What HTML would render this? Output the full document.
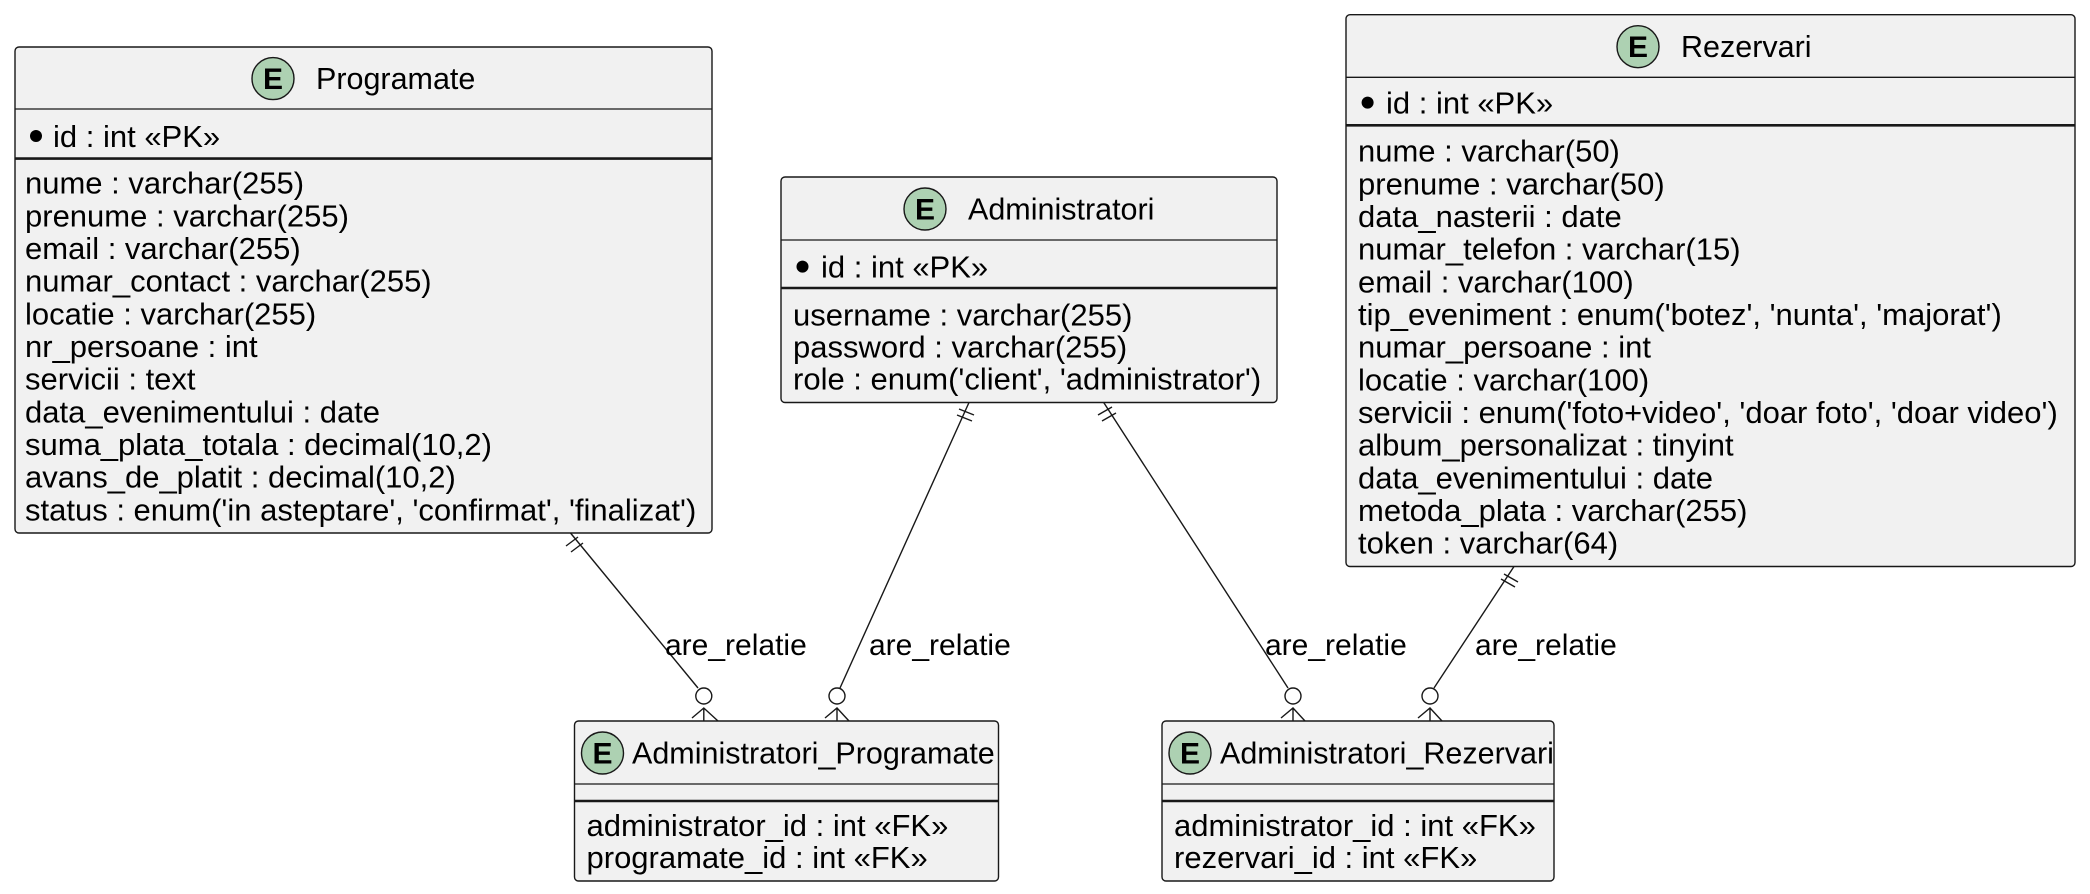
<!DOCTYPE html>
<html><head><meta charset="utf-8"><style>
html,body{margin:0;padding:0;background:#fff;}
svg{display:block;}
text{font-family:"Liberation Sans",sans-serif;font-size:31px;fill:#000;}
.t{font-size:30.5px;}
.lb{font-size:30px;}
.box{fill:#f1f1f1;stroke:#181818;stroke-width:1.4;}
.sep{stroke:#181818;stroke-width:1.3;}
.thk{stroke:#181818;stroke-width:2.6;}
.ln{stroke:#181818;stroke-width:1.4;fill:none;}
.ec{fill:#add1b2;stroke:#181818;stroke-width:1.4;}
.el{font-size:30px;font-weight:bold;text-anchor:middle;}
</style></head><body>
<svg width="2090" height="894" viewBox="0 0 2090 894" xmlns="http://www.w3.org/2000/svg">
<rect class="box" x="15" y="47" width="697" height="486" rx="4"/>
<circle class="ec" cx="273" cy="78.6" r="21"/><text class="el" x="273" y="89">E</text>
<text class="t" x="316" y="89">Programate</text>
<line class="sep" x1="15" y1="109" x2="712" y2="109"/>
<circle cx="36" cy="136" r="6" fill="#000"/><text x="53" y="147">id : int «PK»</text>
<line class="thk" x1="15" y1="158.6" x2="712" y2="158.6"/>
<text x="25" y="193.6">nume : varchar(255)</text>
<text x="25" y="226.3">prenume : varchar(255)</text>
<text x="25" y="258.9">email : varchar(255)</text>
<text x="25" y="291.6">numar_contact : varchar(255)</text>
<text x="25" y="324.3">locatie : varchar(255)</text>
<text x="25" y="356.9">nr_persoane : int</text>
<text x="25" y="389.6">servicii : text</text>
<text x="25" y="422.3">data_evenimentului : date</text>
<text x="25" y="454.9">suma_plata_totala : decimal(10,2)</text>
<text x="25" y="487.6">avans_de_platit : decimal(10,2)</text>
<text x="25" y="520.3">status : enum('in asteptare', 'confirmat', 'finalizat')</text>

<rect class="box" x="781" y="177" width="496" height="225.5" rx="4"/>
<circle class="ec" cx="925" cy="209" r="21"/><text class="el" x="925" y="219.5">E</text>
<text class="t" x="968" y="219.5">Administratori</text>
<line class="sep" x1="781" y1="240" x2="1277" y2="240"/>
<circle cx="802.5" cy="266.6" r="6" fill="#000"/><text x="821" y="277.6">id : int «PK»</text>
<line class="thk" x1="781" y1="288" x2="1277" y2="288"/>
<text x="793" y="325.6">username : varchar(255)</text>
<text x="793" y="357.6">password : varchar(255)</text>
<text x="793" y="389.6">role : enum('client', 'administrator')</text>

<rect class="box" x="1346" y="14.7" width="729" height="551.8" rx="4"/>
<circle class="ec" cx="1638" cy="46.7" r="21"/><text class="el" x="1638" y="57">E</text>
<text class="t" x="1681" y="57">Rezervari</text>
<line class="sep" x1="1346" y1="77.3" x2="2075" y2="77.3"/>
<circle cx="1367.6" cy="102.6" r="6" fill="#000"/><text x="1386" y="113.6">id : int «PK»</text>
<line class="thk" x1="1346" y1="125.3" x2="2075" y2="125.3"/>
<text x="1358" y="161.6">nume : varchar(50)</text>
<text x="1358" y="194.3">prenume : varchar(50)</text>
<text x="1358" y="226.9">data_nasterii : date</text>
<text x="1358" y="259.6">numar_telefon : varchar(15)</text>
<text x="1358" y="292.3">email : varchar(100)</text>
<text x="1358" y="324.9">tip_eveniment : enum('botez', 'nunta', 'majorat')</text>
<text x="1358" y="357.6">numar_persoane : int</text>
<text x="1358" y="390.3">locatie : varchar(100)</text>
<text x="1358" y="422.9">servicii : enum('foto+video', 'doar foto', 'doar video')</text>
<text x="1358" y="455.6">album_personalizat : tinyint</text>
<text x="1358" y="488.3">data_evenimentului : date</text>
<text x="1358" y="520.9">metoda_plata : varchar(255)</text>
<text x="1358" y="553.6">token : varchar(64)</text>

<rect class="box" x="574.5" y="721" width="424" height="160" rx="4"/>
<circle class="ec" cx="602.5" cy="753" r="21"/><text class="el" x="602.5" y="763.5">E</text>
<text class="t" x="632" y="763.5">Administratori_Programate</text>
<line class="sep" x1="574.5" y1="784" x2="998.5" y2="784"/>
<line class="thk" x1="574.5" y1="801" x2="998.5" y2="801"/>
<text x="586.5" y="836">administrator_id : int «FK»</text>
<text x="586.5" y="868">programate_id : int «FK»</text>

<rect class="box" x="1162" y="721" width="392" height="160" rx="4"/>
<circle class="ec" cx="1190" cy="753" r="21"/><text class="el" x="1190" y="763.5">E</text>
<text class="t" x="1220" y="763.5">Administratori_Rezervari</text>
<line class="sep" x1="1162" y1="784" x2="1554" y2="784"/>
<line class="thk" x1="1162" y1="801" x2="1554" y2="801"/>
<text x="1174" y="836">administrator_id : int «FK»</text>
<text x="1174" y="868">rezervari_id : int «FK»</text>

<g class="ln">
<line x1="570.5" y1="533" x2="698" y2="688"/>
<line x1="566" y1="546" x2="578" y2="537"/><line x1="571" y1="552" x2="583" y2="543"/>
<circle cx="703.8" cy="696" r="8" fill="#fff"/>
<path d="M703.8 721 L703.8 708 M692 718 L703.8 708 L718 721"/>
<line x1="969" y1="402.5" x2="840" y2="688"/>
<line x1="959" y1="409" x2="974" y2="415"/><line x1="957" y1="415" x2="972" y2="421"/>
<circle cx="837" cy="696" r="8" fill="#fff"/>
<path d="M837 721 L837 708 M825 718 L837 708 L849 721"/>
<line x1="1103.7" y1="402.5" x2="1288" y2="688"/>
<line x1="1098" y1="415" x2="1112" y2="407"/><line x1="1102" y1="421" x2="1116" y2="413"/>
<circle cx="1293" cy="696" r="8" fill="#fff"/>
<path d="M1293 721 L1293 708 M1281 718 L1293 708 L1305 721"/>
<line x1="1514" y1="566.5" x2="1434" y2="688"/>
<line x1="1504" y1="574" x2="1518" y2="582"/><line x1="1501" y1="579" x2="1515" y2="587"/>
<circle cx="1430" cy="696" r="8" fill="#fff"/>
<path d="M1430 721 L1430 708 M1418 718 L1430 708 L1442 721"/>
</g>
<text class="lb" x="665" y="655">are_relatie</text>
<text class="lb" x="869" y="655">are_relatie</text>
<text class="lb" x="1265" y="655">are_relatie</text>
<text class="lb" x="1475" y="655">are_relatie</text>
</svg>
</body></html>
